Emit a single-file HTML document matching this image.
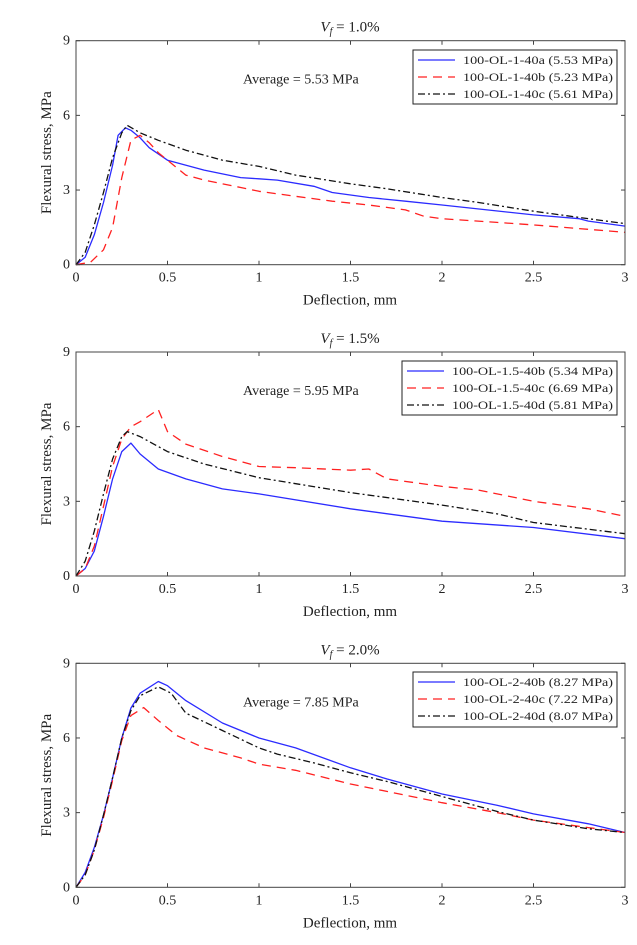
<!DOCTYPE html>
<html><head><meta charset="utf-8"><style>
body{margin:0;background:#fff;}
svg text{font-family:"Liberation Serif",serif;fill:#222;}
</style></head><body>
<svg id="chart" width="637" height="940" viewBox="0 0 637 940" xmlns="http://www.w3.org/2000/svg"></svg>
<script>
// ---- data ----
const titles = ["1.0%", "1.5%", "2.0%"];
const averages = ["5.53", "5.95", "7.85"];
const xTicks = [0, 0.5, 1, 1.5, 2, 2.5, 3];
const xTickLabels = ["0", "0.5", "1", "1.5", "2", "2.5", "3"];
const yTicks = [0, 3, 6, 9];
const yTickLabels = ["0", "3", "6", "9"];
const legendNames = [
  ["100-OL-1-40a (5.53 MPa)", "100-OL-1-40b (5.23 MPa)", "100-OL-1-40c (5.61 MPa)"],
  ["100-OL-1.5-40b (5.34 MPa)", "100-OL-1.5-40c (6.69 MPa)", "100-OL-1.5-40d (5.81 MPa)"],
  ["100-OL-2-40b (8.27 MPa)", "100-OL-2-40c (7.22 MPa)", "100-OL-2-40d (8.07 MPa)"]
];
// panel 1
const p1aX = [0,0.05,0.1,0.15,0.2,0.23,0.27,0.3,0.35,0.4,0.5,0.7,0.9,1.0,1.1,1.3,1.4,1.6,1.8,2.0,2.5,2.75,2.8,3.0];
const p1aY = [0,0.3,1.2,2.5,4.0,5.2,5.5,5.4,5.1,4.7,4.2,3.8,3.5,3.45,3.4,3.15,2.9,2.7,2.55,2.4,2.0,1.85,1.75,1.55];
const p1bX = [0,0.08,0.15,0.2,0.25,0.3,0.35,0.4,0.45,0.5,0.6,0.7,0.9,1.0,1.2,1.4,1.6,1.8,1.9,2.0,2.3,2.5,3.0];
const p1bY = [0,0.1,0.6,1.5,3.5,5.0,5.2,4.9,4.5,4.2,3.6,3.4,3.1,2.95,2.75,2.55,2.4,2.2,1.95,1.85,1.7,1.6,1.3];
const p1cX = [0,0.05,0.1,0.15,0.2,0.25,0.28,0.35,0.45,0.6,0.8,1.0,1.2,1.5,1.7,2.0,2.2,2.5,2.8,3.0];
const p1cY = [0,0.5,1.6,2.9,4.3,5.3,5.6,5.3,5.0,4.6,4.2,3.95,3.6,3.25,3.05,2.7,2.5,2.15,1.85,1.65];
// panel 2
const p2bX = [0,0.05,0.1,0.15,0.2,0.25,0.3,0.35,0.45,0.6,0.8,1.0,1.5,2.0,2.5,3.0];
const p2bY = [0,0.3,1.0,2.4,3.9,5.0,5.34,4.9,4.3,3.9,3.5,3.3,2.7,2.2,1.95,1.5];
const p2cX = [0,0.05,0.1,0.15,0.2,0.25,0.3,0.35,0.45,0.5,0.6,0.8,1.0,1.2,1.5,1.6,1.7,2.0,2.2,2.5,2.8,3.0];
const p2cY = [0,0.3,1.2,2.8,4.4,5.5,6.0,6.2,6.69,5.8,5.3,4.8,4.4,4.35,4.25,4.3,3.9,3.6,3.45,3.0,2.7,2.4];
const p2dX = [0,0.05,0.1,0.15,0.2,0.25,0.28,0.35,0.5,0.7,1.0,1.5,2.0,2.3,2.5,3.0];
const p2dY = [0,0.6,1.8,3.3,4.7,5.6,5.8,5.6,5.0,4.5,3.95,3.35,2.85,2.5,2.15,1.7];
// panel 3
const p3bX = [0,0.05,0.1,0.15,0.2,0.25,0.3,0.35,0.45,0.5,0.6,0.8,1.0,1.2,1.5,1.7,2.0,2.3,2.5,2.8,3.0];
const p3bY = [0,0.6,1.6,2.9,4.4,6.0,7.2,7.8,8.27,8.1,7.5,6.6,6.0,5.6,4.8,4.35,3.75,3.3,2.95,2.55,2.2];
const p3cX = [0,0.05,0.1,0.15,0.2,0.25,0.3,0.37,0.45,0.55,0.7,0.9,1.0,1.2,1.5,1.8,2.0,2.3,2.5,2.8,3.0];
const p3cY = [0,0.5,1.5,2.8,4.3,5.9,6.9,7.22,6.7,6.1,5.6,5.2,4.95,4.7,4.15,3.7,3.4,3.0,2.7,2.4,2.2];
const p3dX = [0,0.05,0.1,0.15,0.2,0.25,0.3,0.35,0.45,0.52,0.6,0.8,1.0,1.1,1.3,1.5,1.7,2.0,2.3,2.5,2.8,3.0];
const p3dY = [0,0.5,1.5,2.9,4.4,6.0,7.1,7.7,8.05,7.8,7.0,6.3,5.6,5.35,5.0,4.6,4.25,3.65,3.05,2.7,2.35,2.2];

const panelSeriesX = [[p1aX,p1bX,p1cX],[p2bX,p2cX,p2dX],[p3bX,p3cX,p3dX]];
const panelSeriesY = [[p1aY,p1bY,p1cY],[p2bY,p2cY,p2dY],[p3bY,p3cY,p3dY]];

// ---- layout ----
const NS = "http://www.w3.org/2000/svg";
const svg = document.getElementById("chart");
const L = 76, R = 625, PH = 224;
const tops = [40.7, 352, 663.3];
const legendBoxes = [[413,50,204,54],[402,361,215,54],[413,672,204,55]];
const styles = [
  {stroke:"#2b2bff", dash:""},
  {stroke:"#ff2020", dash:"9,6"},
  {stroke:"#111", dash:"7,3,2,3"}
];
function mk(tag, attrs, parent){ const e=document.createElementNS(NS,tag); for(const k in attrs) e.setAttribute(k,attrs[k]); (parent||svg).appendChild(e); return e; }

for (let p=0;p<3;p++){
  const T = tops[p];
  const xs = v => L + (v/3)*(R-L);
  const ys = v => T + PH - (v/9)*PH;
  const g = mk("g",{});
  
  
  for (let s=0;s<3;s++){
    const X = panelSeriesX[p][s], Y = panelSeriesY[p][s];
    const d = X.map((x,i)=>(i?"L":"M")+xs(x).toFixed(1)+","+ys(Y[i]).toFixed(1)).join("");
    const path = mk("path",{d:d,fill:"none",stroke:styles[s].stroke,"stroke-width":1.3,"stroke-dasharray":styles[s].dash,"stroke-linejoin":"round"},g);
    
    
  }
  const box = mk("rect",{x:L,y:T,width:R-L,height:PH,fill:"none",stroke:"#444","stroke-width":1},g);
  
  
  xTicks.forEach((t,i)=>{
    mk("line",{x1:xs(t),x2:xs(t),y1:T+PH,y2:T+PH-4,stroke:"#444"},g);
    mk("line",{x1:xs(t),x2:xs(t),y1:T,y2:T+4,stroke:"#444"},g);
    const tx = mk("text",{x:xs(t),y:T+PH+17,"text-anchor":"middle","font-size":14},g);
    tx.textContent = xTickLabels[i];
    
    
  });
  yTicks.forEach((t,i)=>{
    mk("line",{x1:L,x2:L+4,y1:ys(t),y2:ys(t),stroke:"#444"},g);
    mk("line",{x1:R,x2:R-4,y1:ys(t),y2:ys(t),stroke:"#444"},g);
    const ty = mk("text",{x:L-6,y:ys(t)+4,"text-anchor":"end","font-size":14},g);
    ty.textContent = yTickLabels[i];
    
    
  });
  const title = mk("text",{x:350,y:T-9,"text-anchor":"middle","font-size":15},g);
  title.innerHTML = '<tspan font-style="italic">V</tspan><tspan font-style="italic" font-size="10" dy="3">f</tspan><tspan dy="-3"> = '+titles[p]+'</tspan>';
  
  
  const xl = mk("text",{x:350,y:T+PH+40,"text-anchor":"middle","font-size":15},g);
  xl.textContent = "Deflection, mm";
  
  
  const yl = mk("text",{x:0,y:0,"text-anchor":"middle","font-size":15,transform:"translate(51,"+(T+PH/2)+") rotate(-90)"},g);
  yl.textContent = "Flexural stress, MPa";
  
  
  const av = mk("text",{x:243,y:T+43,"font-size":14},g);
  av.textContent = "Average = "+averages[p]+" MPa";
  
  
  const [lx,ly,lw,lh] = legendBoxes[p];
  const lg = mk("g",{},g);
  
  
  mk("rect",{x:lx,y:ly,width:lw,height:lh,fill:"#fff",stroke:"#222","stroke-width":1},lg);
  for (let s=0;s<3;s++){
    const cy = ly+10+s*17;
    const e = mk("g",{},lg);
    
    
    mk("line",{x1:lx+5,x2:lx+42,y1:cy,y2:cy,stroke:styles[s].stroke,"stroke-width":1.3,"stroke-dasharray":styles[s].dash},e);
    const t = mk("text",{x:lx+lw-4,y:cy+4,"text-anchor":"end","font-size":12,textLength:lw-54,lengthAdjust:"spacingAndGlyphs"},e);
    t.textContent = legendNames[p][s];
  }
}
</script>
</body></html>
